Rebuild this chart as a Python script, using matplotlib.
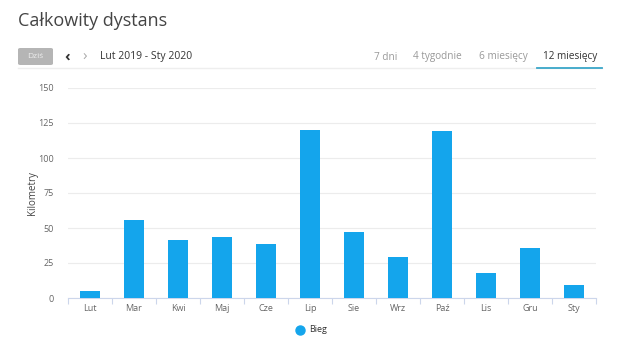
import matplotlib
matplotlib.use("Agg")
import matplotlib.pyplot as plt
from matplotlib.patches import FancyBboxPatch
from matplotlib.lines import Line2D
import numpy as np

plt.rcParams['font.family'] = ['Open Sans', 'DejaVu Sans']

months = ["Lut", "Mar", "Kwi", "Maj", "Cze", "Lip", "Sie", "Wrz", "Paź", "Lis", "Gru", "Sty"]
distance_km = [5, 56, 41.7, 43.6, 38.4, 120, 47, 29, 119, 18, 36, 9.5]
yticks = [0, 25, 50, 75, 100, 125, 150]
series_name = "Bieg"
title = "Całkowity dystans"
period = "Lut 2019 - Sty 2020"
tabs = ["7 dni", "4 tygodnie", "6 miesięcy", "12 miesięcy"]

W, H = 630, 351
fig = plt.figure(figsize=(W / 100, H / 100), dpi=100)
ax = fig.add_axes([68 / W, 1 - 298 / H, (596 - 68) / W, (298 - 88) / H])

bar_color = "#14a5ec"
x = np.arange(len(months))
ax.bar(x, distance_km, width=0.45, color=bar_color, zorder=3)
ax.set_xlim(-0.5, len(months) - 0.5)
ax.set_ylim(0, 150)
ax.set_yticks(yticks)
ax.set_yticklabels([str(v) for v in yticks])
ax.set_xticks(x)
ax.set_xticklabels(months)
ax.tick_params(axis='x', length=0, pad=4, labelsize=6.5, labelcolor="#666666")
ax.tick_params(axis='y', length=0, pad=10, labelsize=6.5, labelcolor="#666666")
ax.set_xticks(np.arange(-0.5, len(months) + 0.5, 1), minor=True)
ax.tick_params(axis='x', which='minor', length=4, color="#ccd6eb", width=0.8)
ax.grid(axis='y', color="#ececec", linewidth=0.8, zorder=0)
for s in ["top", "right", "left"]:
    ax.spines[s].set_visible(False)
ax.spines["bottom"].set_color("#ccd6eb")
ax.spines["bottom"].set_linewidth(0.8)
ax.set_ylabel("Kilometry", fontsize=7, color="#444444")
ax.yaxis.set_label_coords((38 - 68) / 528, 0.5)

# header
fig.text(18 / W, 1 - 21 / H, title, fontsize=13, color="#444444", va="center", ha="left")
btn = FancyBboxPatch((18 / W, 1 - 65 / H), 35 / W, 17 / H,
                     boxstyle="round,pad=0,rounding_size=0.004",
                     transform=fig.transFigure, facecolor="#b5b5b5", edgecolor="none")
fig.patches.append(btn)
fig.text(35.5 / W, 1 - 56.5 / H, "Dziś", fontsize=6, color="#eeeeee", ha="center", va="center")
fig.text(67 / W, 1 - 57 / H, "‹", fontsize=11, color="#333333", ha="center", va="center", fontweight="bold")
fig.text(85 / W, 1 - 57 / H, "›", fontsize=11, color="#aaaaaa", ha="center", va="center")
fig.text(100 / W, 1 - 57 / H, period, fontsize=7.5, color="#333333", ha="left", va="center")
fig.add_artist(Line2D([18 / W, 602 / W], [1 - 68 / H, 1 - 68 / H], color="#eeeeee", lw=1))
tab_x = [386, 437, 503, 570]
for i, (t, tx) in enumerate(zip(tabs, tab_x)):
    col = "#333333" if i == len(tabs) - 1 else "#999999"
    fig.text(tx / W, 1 - 57 / H, t, fontsize=7.2, color=col, ha="center", va="center")
fig.add_artist(Line2D([537 / W, 602 / W], [1 - 68 / H, 1 - 68 / H], color="#3aa6c9", lw=1.3))

# legend
fig.add_artist(Line2D([300 / W], [1 - 330 / H], marker="o", markersize=6.5,
                      color=bar_color, linestyle="none"))
fig.text(309 / W, 1 - 330 / H, series_name, fontsize=6.5, color="#333333", ha="left", va="center")

fig.savefig("out.png", dpi=100, facecolor="white")
